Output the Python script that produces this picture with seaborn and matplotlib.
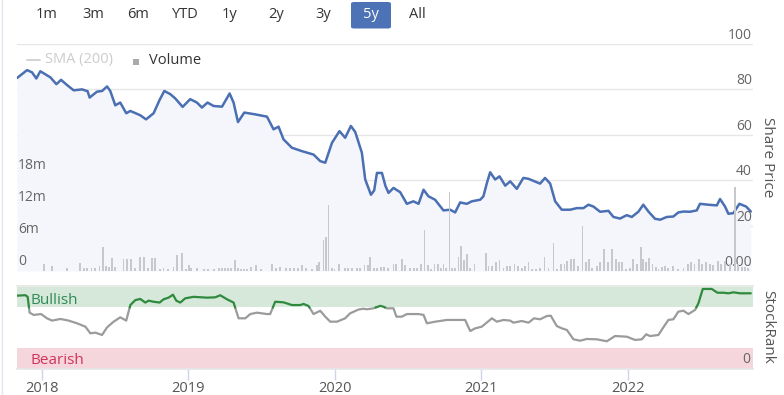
import numpy as np
import matplotlib
matplotlib.use("Agg")
import matplotlib.pyplot as plt
import matplotlib.transforms as mtrans
from matplotlib.patches import FancyBboxPatch
from matplotlib.lines import Line2D
import seaborn as sns

# range selector
range_buttons = ["1m", "3m", "6m", "YTD", "1y", "2y", "3y", "5y", "All"]
active_button = "5y"

# share price (decimal year, price)
price_year = [2017.829, 2017.898, 2017.932, 2017.961, 2017.988, 2018.057, 2018.098, 2018.130,
              2018.171, 2018.216, 2018.273, 2018.311, 2018.325, 2018.375, 2018.410, 2018.444,
              2018.466, 2018.500, 2018.534, 2018.575, 2018.603, 2018.671, 2018.710, 2018.762,
              2018.803, 2018.835, 2018.876, 2018.910, 2018.960, 2019.012, 2019.058, 2019.092,
              2019.130, 2019.171, 2019.229, 2019.281, 2019.308, 2019.338, 2019.381, 2019.456,
              2019.536, 2019.581, 2019.615, 2019.649, 2019.706, 2019.775, 2019.854, 2019.900,
              2019.934, 2019.980, 2020.031, 2020.070, 2020.109, 2020.139, 2020.184, 2020.207,
              2020.246, 2020.268, 2020.287, 2020.321, 2020.345, 2020.366, 2020.400, 2020.446,
              2020.491, 2020.536, 2020.571, 2020.605, 2020.639, 2020.684, 2020.741, 2020.787,
              2020.821, 2020.855, 2020.901, 2020.935, 2020.992, 2021.014, 2021.038, 2021.060,
              2021.094, 2021.124, 2021.163, 2021.197, 2021.242, 2021.287, 2021.322, 2021.401,
              2021.435, 2021.470, 2021.504, 2021.549, 2021.606, 2021.652, 2021.697, 2021.731,
              2021.765, 2021.811, 2021.868, 2021.902, 2021.947, 2021.993, 2022.027, 2022.072,
              2022.106, 2022.141, 2022.186, 2022.222, 2022.266, 2022.311, 2022.345, 2022.380,
              2022.425, 2022.471, 2022.493, 2022.550, 2022.608, 2022.630, 2022.664, 2022.687,
              2022.721, 2022.762, 2022.808, 2022.840]
price = [85.0, 88.5, 87.5, 84.8, 88.0, 85.3, 82.3, 84.2,
         81.9, 79.6, 80.0, 79.2, 76.4, 79.0, 79.3, 81.3,
         79.3, 73.0, 74.2, 69.5, 70.5, 68.6, 66.8, 69.5,
         75.4, 79.3, 77.9, 76.0, 72.3, 75.7, 74.2, 72.0,
         74.2, 72.7, 72.4, 78.2, 74.2, 65.6, 69.8, 69.0,
         68.0, 62.4, 63.6, 58.0, 54.3, 52.8, 51.3, 48.4,
         47.7, 56.5, 61.6, 58.7, 63.9, 61.2, 52.1, 40.3,
         33.6, 35.5, 43.2, 43.2, 37.5, 34.4, 36.6, 34.7,
         29.6, 30.7, 29.6, 35.8, 32.9, 31.4, 26.7, 27.0,
         25.8, 30.2, 29.6, 30.7, 31.4, 32.9, 38.8, 43.5,
         40.3, 41.7, 37.6, 39.5, 36.2, 41.0, 40.6, 38.5,
         41.0, 38.5, 30.7, 27.0, 27.0, 27.7, 27.7, 29.2,
         28.4, 26.1, 26.5, 23.8, 23.1, 24.6, 23.8, 26.1,
         29.2, 26.2, 23.0, 22.6, 23.8, 24.0, 25.8, 26.2,
         26.1, 26.7, 29.6, 29.2, 28.9, 31.7, 28.4, 25.2,
         25.5, 29.6, 28.4, 26.2]

# volume (decimal year, millions)
volume_year = [2018.011, 2018.068, 2018.171, 2018.261, 2018.284, 2018.309, 2018.337, 2018.364,
               2018.393, 2018.416, 2018.439, 2018.456, 2018.478, 2018.500, 2018.557, 2018.580,
               2018.608, 2018.637, 2018.671, 2018.698, 2018.726, 2018.751, 2018.770, 2018.807,
               2018.830, 2018.860, 2018.898, 2018.922, 2018.956, 2018.985, 2019.001, 2019.019,
               2019.058, 2019.108, 2019.135, 2019.176, 2019.210, 2019.231, 2019.251, 2019.272,
               2019.292, 2019.319, 2019.338, 2019.360, 2019.381, 2019.401, 2019.429, 2019.461,
               2019.497, 2019.570, 2019.599, 2019.627, 2019.668, 2019.695, 2019.722, 2019.750,
               2019.775, 2019.804, 2019.843, 2019.877, 2019.893, 2019.922, 2019.941, 2019.956,
               2019.978, 2019.997, 2020.029, 2020.070, 2020.091, 2020.118, 2020.152, 2020.173,
               2020.202, 2020.225, 2020.241, 2020.265, 2020.289, 2020.313, 2020.337, 2020.360,
               2020.400, 2020.418, 2020.457, 2020.480, 2020.514, 2020.538, 2020.562, 2020.589,
               2020.612, 2020.635, 2020.657, 2020.680, 2020.703, 2020.722, 2020.741, 2020.760,
               2020.782, 2020.801, 2020.821, 2020.844, 2020.860, 2020.880, 2020.903, 2020.920,
               2020.953, 2021.031, 2021.049, 2021.072, 2021.099, 2021.124, 2021.151, 2021.174,
               2021.197, 2021.226, 2021.249, 2021.276, 2021.299, 2021.322, 2021.345, 2021.374,
               2021.401, 2021.431, 2021.458, 2021.492, 2021.515, 2021.545, 2021.567, 2021.586,
               2021.613, 2021.631, 2021.659, 2021.690, 2021.713, 2021.736, 2021.758, 2021.788,
               2021.811, 2021.840, 2021.863, 2021.891, 2021.918, 2021.941, 2021.961, 2021.988,
               2022.015, 2022.038, 2022.061, 2022.089, 2022.106, 2022.123, 2022.145, 2022.168,
               2022.191, 2022.210, 2022.232, 2022.255, 2022.277, 2022.311, 2022.343, 2022.380,
               2022.410, 2022.432, 2022.455, 2022.487, 2022.509, 2022.532, 2022.562, 2022.584,
               2022.614, 2022.637, 2022.664, 2022.696, 2022.733, 2022.755, 2022.780, 2022.801,
               2022.821]
volume_m = [1.4, 1.0, 0.5, 1.5, 0.5, 0.5, 0.6, 0.6,
            1.0, 4.4, 1.0, 0.8, 2.5, 0.8, 2.2, 2.2,
            2.2, 0.6, 2.6, 2.6, 0.5, 2.4, 2.4, 0.4,
            0.6, 0.4, 0.8, 2.9, 3.3, 0.3, 1.1, 0.6,
            0.6, 0.3, 0.3, 0.3, 0.6, 0.6, 0.6, 0.6,
            0.6, 2.0, 0.6, 0.4, 0.4, 0.4, 0.8, 1.1,
            0.4, 1.3, 0.5, 0.8, 0.5, 0.5, 0.5, 0.6,
            1.1, 0.5, 0.4, 1.2, 1.7, 5.8, 6.3, 12.4,
            0.5, 0.4, 1.3, 0.6, 0.6, 0.6, 0.6, 0.6,
            1.1, 1.1, 2.7, 0.5, 0.5, 0.8, 0.8, 0.6,
            1.4, 1.4, 2.3, 1.1, 0.5, 0.5, 0.5, 1.4,
            7.6, 1.1, 0.4, 1.4, 1.4, 0.5, 1.4, 0.6,
            14.7, 0.5, 0.6, 2.7, 4.6, 2.0, 3.1, 0.6,
            1.25, 3.4, 0.9, 0.9, 1.6, 2.0, 0.6, 0.9,
            0.9, 1.25, 0.9, 0.6, 0.9, 1.7, 0.4, 0.3,
            0.6, 2.6, 0.6, 5.3, 0.4, 1.25, 1.25, 1.9,
            2.3, 2.2, 0.9, 8.4, 1.7, 2.3, 0.6, 0.9,
            1.6, 4.2, 1.6, 4.2, 2.2, 1.6, 1.6, 0.4,
            0.5, 2.2, 1.4, 4.5, 2.2, 1.6, 2.5, 1.25,
            0.75, 0.3, 0.75, 0.9, 0.5, 0.9, 0.3, 0.5,
            1.25, 1.6, 1.4, 2.2, 1.25, 1.6, 1.25, 1.1,
            1.9, 1.4, 1.9, 1.25, 15.75, 1.25, 0.8, 0.8,
            0.6]

# StockRank (decimal year, rank 0-100)
rank_year = [2017.829, 2017.886, 2017.902, 2017.915, 2017.943, 2017.993, 2018.034, 2018.068,
             2018.125, 2018.182, 2018.239, 2018.296, 2018.330, 2018.364, 2018.410, 2018.444,
             2018.489, 2018.534, 2018.575, 2018.603, 2018.637, 2018.671, 2018.705, 2018.728,
             2018.762, 2018.803, 2018.830, 2018.864, 2018.894, 2018.917, 2018.944, 2018.978,
             2019.035, 2019.126, 2019.183, 2019.217, 2019.263, 2019.308, 2019.342, 2019.388,
             2019.422, 2019.468, 2019.536, 2019.558, 2019.592, 2019.649, 2019.706, 2019.763,
             2019.786, 2019.820, 2019.854, 2019.900, 2019.934, 2019.968, 2020.014, 2020.070,
             2020.104, 2020.161, 2020.195, 2020.218, 2020.263, 2020.309, 2020.330, 2020.355,
             2020.400, 2020.420, 2020.457, 2020.491, 2020.571, 2020.605, 2020.628, 2020.685,
             2020.765, 2020.889, 2020.924, 2020.958, 2021.003, 2021.072, 2021.106, 2021.151,
             2021.197, 2021.219, 2021.276, 2021.322, 2021.360, 2021.401, 2021.447, 2021.474,
             2021.515, 2021.549, 2021.584, 2021.629, 2021.675, 2021.720, 2021.788, 2021.857,
             2021.913, 2021.993, 2022.050, 2022.096, 2022.125, 2022.152, 2022.209, 2022.243,
             2022.277, 2022.311, 2022.345, 2022.380, 2022.414, 2022.459, 2022.482, 2022.512,
             2022.573, 2022.612, 2022.653, 2022.687, 2022.721, 2022.766, 2022.840]
rank = [89.4, 90.0, 88.0, 68.7, 65.9, 67.0, 61.8, 59.0,
        61.0, 59.0, 55.7, 51.6, 43.5, 44.3, 41.5, 50.8,
        57.7, 63.0, 59.0, 78.0, 84.0, 85.4, 81.0, 83.3,
        82.0, 81.0, 85.0, 87.0, 90.6, 83.3, 81.0, 86.2,
        88.0, 87.0, 87.4, 89.9, 85.0, 81.0, 61.8, 61.8,
        67.0, 68.7, 67.0, 67.0, 82.0, 81.3, 78.0, 78.0,
        79.3, 76.8, 67.0, 71.0, 63.8, 57.7, 57.7, 61.8,
        67.9, 72.5, 73.5, 72.8, 74.0, 77.0, 76.0, 74.0,
        74.0, 63.8, 63.8, 67.0, 67.0, 66.0, 55.7, 57.7,
        59.8, 59.8, 46.3, 49.6, 51.6, 61.8, 57.7, 59.8,
        59.0, 56.5, 58.5, 56.5, 61.8, 60.6, 64.6, 65.0,
        52.4, 49.6, 47.6, 36.2, 34.5, 36.6, 36.2, 33.8,
        40.2, 39.4, 35.4, 36.2, 42.3, 40.2, 41.5, 50.8,
        59.8, 60.6, 69.9, 71.1, 67.0, 72.0, 80.0, 97.6,
        97.6, 93.0, 93.0, 92.3, 93.5, 92.3, 92.3]

price_ticks = [0, 20, 40, 60, 80, 100]
price_tick_labels = ["0.00", "20", "40", "60", "80", "100"]
volume_ticks = [0, 6, 12, 18]
volume_tick_labels = ["0", "6m", "12m", "18m"]
year_ticks = [2018, 2019, 2020, 2021, 2022]
bullish_level = 75
bearish_level = 25

sns.set_theme(style="white")
plt.rcParams['font.family'] = ['Open Sans', 'DejaVu Sans']

W, H = 784, 395
fig = plt.figure(figsize=(W / 100, H / 100), dpi=100)


def px_axes(left, top, right, bottom):
    return fig.add_axes([left / W, 1 - bottom / H, (right - left) / W, (bottom - top) / H])


def fx(x):
    return x / W


def fy(y):
    return 1 - y / H


x_lim = (2017.829, 2022.855)

# range selector buttons
button_x = [47, 93, 138, 185, 230, 276, 323, 371, 417]
for lab, bx in zip(range_buttons, button_x):
    col = "#333333"
    if lab == active_button:
        fig.patches.append(FancyBboxPatch((fx(351), fy(28.5)), fx(40), 26.5 / H,
                                          boxstyle="round,pad=0,rounding_size=0.004",
                                          transform=fig.transFigure, fc="#4d72b5", ec="none"))
        col = "white"
    fig.text(fx(bx), fy(15), lab, ha="center", va="center", fontsize=10.5, color=col)

# legend
fig.lines.append(Line2D([fx(27), fx(40)], [fy(60), fy(60)], transform=fig.transFigure,
                        color="#cccccc", lw=1.2))
fig.text(fx(45), fy(60), "SMA (200)", ha="left", va="center", fontsize=10.5, color="#cccccc")
fig.patches.append(FancyBboxPatch((fx(133), fy(64.5)), fx(6), 6 / H, boxstyle="square,pad=0",
                                  transform=fig.transFigure, fc="#aaaaaa", ec="none"))
fig.text(fx(149), fy(60), "Volume", ha="left", va="center", fontsize=10.5, color="#333333")

# page border on the left
fig.lines.append(Line2D([fx(2), fx(2)], [0, 1], transform=fig.transFigure, color="#e3e6ec", lw=1))

# price panel
ax_p = px_axes(17, 44, 753, 271)
ax_p.fill_between(price_year, price, 0, color="#f4f6fc", lw=0)
sns.lineplot(x=price_year, y=price, ax=ax_p, color="#4a6fb2", linewidth=1.8)

# volume on its own scale, drawn above the price
ax_v = ax_p.twinx()
ax_v.bar(volume_year, volume_m, width=0.012, color="#c6c8cd", linewidth=0)
ax_v.set_ylim(0, 42.4)
ax_v.set_xlim(*x_lim)
ax_v.set_yticks([])
ax_v.tick_params(left=False, right=False, labelleft=False, labelright=False)
for s in ax_v.spines.values():
    s.set_visible(False)

ax_p.set_xlim(*x_lim)
ax_p.set_ylim(0, 100)
ax_p.set_yticks(price_ticks)
ax_p.set_xticks([])
ax_p.yaxis.grid(True, color="#e6e6e6", lw=1)
ax_p.tick_params(left=False, right=False, labelleft=False, labelright=False,
                 bottom=False, labelbottom=False)
ax_p.set_xlabel("")
ax_p.set_ylabel("")
for s in ax_p.spines.values():
    s.set_visible(False)

price_tr = mtrans.offset_copy(mtrans.blended_transform_factory(ax_p.transAxes, ax_p.transData),
                              fig=fig, x=-1, y=1, units="dots")
for v, lab in zip(price_ticks, price_tick_labels):
    ax_p.text(1, v, lab, transform=price_tr, ha="right", va="bottom", fontsize=10, color="#666666",
              zorder=5)

vol_tr = mtrans.offset_copy(mtrans.blended_transform_factory(ax_v.transAxes, ax_v.transData),
                            fig=fig, x=1, y=2, units="dots")
for v, lab in zip(volume_ticks, volume_tick_labels):
    ax_v.text(0, v, lab, transform=vol_tr, ha="left", va="bottom", fontsize=10, color="#666666")

fig.text(fx(768), fy(157), "Share Price", rotation=270, ha="center", va="center",
         fontsize=11, color="#555555")

# StockRank panel
ax_r = px_axes(17, 286, 753, 369)
ax_r.axhspan(bullish_level, 100, color="#d5e8d9", lw=0)
ax_r.axhspan(0, bearish_level, color="#f6d6dd", lw=0)


def split_zones(xs, ys, level):
    xx, yy = [xs[0]], [ys[0]]
    for x0, y0, x1, y1 in zip(xs[:-1], ys[:-1], xs[1:], ys[1:]):
        if (y0 - level) * (y1 - level) < 0:
            t = (level - y0) / (y1 - y0)
            xx.append(x0 + t * (x1 - x0))
            yy.append(level)
        xx.append(x1)
        yy.append(y1)
    xx, yy = np.array(xx), np.array(yy)
    return xx, np.where(yy >= level, yy, np.nan), np.where(yy <= level, yy, np.nan)


rx, r_hi, r_lo = split_zones(rank_year, rank, bullish_level)
ax_r.plot(rx, r_lo, color="#9b9b9b", lw=1.6, solid_capstyle="round")
ax_r.plot(rx, r_hi, color="#2f8a3e", lw=1.6, solid_capstyle="round")
ax_r.set_xlim(*x_lim)
ax_r.set_ylim(0, 101.2)
ax_r.set_yticks([])
ax_r.set_xticks(year_ticks)
ax_r.set_xticklabels([str(y) for y in year_ticks])
ax_r.tick_params(axis="x", bottom=True, length=8, width=1, color="#ccd6eb", labelcolor="#555555",
                 labelsize=10.5, pad=1)
for side in ["left", "right"]:
    ax_r.spines[side].set_visible(False)
ax_r.spines["top"].set_color("#e6e6e6")
ax_r.spines["bottom"].set_color("#e6e6e6")
band_tr = mtrans.blended_transform_factory(ax_r.transAxes, ax_r.transData)
ax_r.text(0.0177, 83, "Bullish", transform=band_tr, ha="left", va="center", fontsize=11,
          color="#2f8a57")
ax_r.text(0.0177, 10, "Bearish", transform=band_tr, ha="left", va="center", fontsize=11,
          color="#d0345a")
rank_tr = mtrans.offset_copy(band_tr, fig=fig, x=-3, y=2, units="dots")
ax_r.text(1, 0, "0", transform=rank_tr, ha="right", va="bottom", fontsize=10, color="#666666")

fig.text(fx(768), fy(327), "StockRank", rotation=270, ha="center", va="center",
         fontsize=11, color="#555555")

fig.savefig("out.png", dpi=100)
